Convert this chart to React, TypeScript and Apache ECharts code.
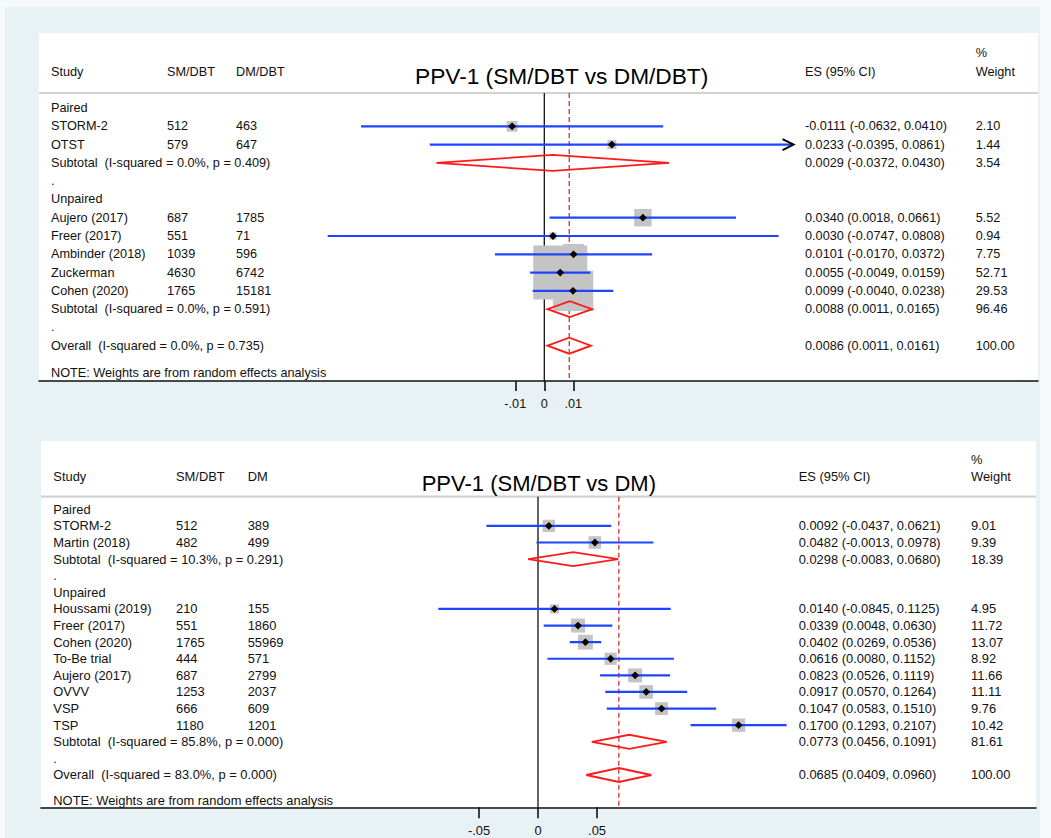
import React, { useEffect, useRef } from 'react';
import * as echarts from 'echarts';

const FONT = '"Liberation Sans", Arial, Helvetica, sans-serif';
const NOTE = 'NOTE: Weights are from random effects analysis';

// ---------- Panel 1: PPV-1 (SM/DBT vs DM/DBT)
const p1Title = 'PPV-1 (SM/DBT vs DM/DBT)';
const p1Heads = ['Study', 'SM/DBT', 'DM/DBT', 'ES (95% CI)', 'Weight'];
const p1Labels = ['Paired', 'STORM-2', 'OTST', 'Subtotal  (I-squared = 0.0%, p = 0.409)', '.', 'Unpaired', 'Aujero (2017)', 'Freer (2017)', 'Ambinder (2018)', 'Zuckerman', 'Cohen (2020)', 'Subtotal  (I-squared = 0.0%, p = 0.591)', '.', 'Overall  (I-squared = 0.0%, p = 0.735)'];
const p1Kinds = ['group', 'study', 'study', 'pooled', 'gap', 'group', 'study', 'study', 'study', 'study', 'study', 'pooled', 'gap', 'pooled'];
const p1N1 = ['', '512', '579', '', '', '', '687', '551', '1039', '4630', '1765', '', '', ''];
const p1N2 = ['', '463', '647', '', '', '', '1785', '71', '596', '6742', '15181', '', '', ''];
const p1ES = [null, -0.0111, 0.0233, 0.0029, null, null, 0.0340, 0.0030, 0.0101, 0.0055, 0.0099, 0.0088, null, 0.0086];
const p1Lo = [null, -0.0632, -0.0395, -0.0372, null, null, 0.0018, -0.0747, -0.0170, -0.0049, -0.0040, 0.0011, null, 0.0011];
const p1Hi = [null, 0.0410, 0.0861, 0.0430, null, null, 0.0661, 0.0808, 0.0372, 0.0159, 0.0238, 0.0165, null, 0.0161];
const p1W = [null, 2.10, 1.44, 3.54, null, null, 5.52, 0.94, 7.75, 52.71, 29.53, 96.46, null, 100.00];
const p1Ticks = [-0.01, 0, 0.01];
const p1TickLabels = ['-.01', '0', '.01'];

// ---------- Panel 2: PPV-1 (SM/DBT vs DM)
const p2Title = 'PPV-1 (SM/DBT vs DM)';
const p2Heads = ['Study', 'SM/DBT', 'DM', 'ES (95% CI)', 'Weight'];
const p2Labels = ['Paired', 'STORM-2', 'Martin (2018)', 'Subtotal  (I-squared = 10.3%, p = 0.291)', '.', 'Unpaired', 'Houssami (2019)', 'Freer (2017)', 'Cohen (2020)', 'To-Be trial', 'Aujero (2017)', 'OVVV', 'VSP', 'TSP', 'Subtotal  (I-squared = 85.8%, p = 0.000)', '.', 'Overall  (I-squared = 83.0%, p = 0.000)'];
const p2Kinds = ['group', 'study', 'study', 'pooled', 'gap', 'group', 'study', 'study', 'study', 'study', 'study', 'study', 'study', 'study', 'pooled', 'gap', 'pooled'];
const p2N1 = ['', '512', '482', '', '', '', '210', '551', '1765', '444', '687', '1253', '666', '1180', '', '', ''];
const p2N2 = ['', '389', '499', '', '', '', '155', '1860', '55969', '571', '2799', '2037', '609', '1201', '', '', ''];
const p2ES = [null, 0.0092, 0.0482, 0.0298, null, null, 0.0140, 0.0339, 0.0402, 0.0616, 0.0823, 0.0917, 0.1047, 0.1700, 0.0773, null, 0.0685];
const p2Lo = [null, -0.0437, -0.0013, -0.0083, null, null, -0.0845, 0.0048, 0.0269, 0.0080, 0.0526, 0.0570, 0.0583, 0.1293, 0.0456, null, 0.0409];
const p2Hi = [null, 0.0621, 0.0978, 0.0680, null, null, 0.1125, 0.0630, 0.0536, 0.1152, 0.1119, 0.1264, 0.1510, 0.2107, 0.1091, null, 0.0960];
const p2W = [null, 9.01, 9.39, 18.39, null, null, 4.95, 11.72, 13.07, 8.92, 11.66, 11.11, 9.76, 10.42, 81.61, null, 100.00];
const p2Ticks = [-0.05, 0, 0.05];
const p2TickLabels = ['-.05', '0', '.05'];

const PANELS = [
  { title: p1Title, heads: p1Heads, labels: p1Labels, kinds: p1Kinds, n1: p1N1, n2: p1N2, es: p1ES, lo: p1Lo, hi: p1Hi, w: p1W, ticks: p1Ticks, tickLabels: p1TickLabels },
  { title: p2Title, heads: p2Heads, labels: p2Labels, kinds: p2Kinds, n1: p2N1, n2: p2N2, es: p2ES, lo: p2Lo, hi: p2Hi, w: p2W, ticks: p2Ticks, tickLabels: p2TickLabels },
];

// layout (pixels)
const LAYOUT = [
  { left: 39, right: 1038, panelTop: 33, top: 93, bottom: 381, zeroX: 544.3, ppu: 2900, row0: 108, step: 18.285, cols: [51, 167, 236, 805, 975.7], headY: 72, pctY: 53, titleX: 415, titleY: 76, noteY: 373.3, fs: 12.7, titleFs: 22.7, boxK: 7.44, dh: 8, clipMax: 0.0856, tickLen: 10, labelMargin: 16 },
  { left: 41, right: 1036, panelTop: 441, top: 496.7, bottom: 807.3, zeroX: 538, ppu: 1180, row0: 509.3, step: 16.606, cols: [53.3, 176, 247.7, 798.7, 971], headY: 476, pctY: 459, titleX: 421.7, titleY: 483, noteY: 800, fs: 12.9, titleFs: 22, boxK: 4.1, dh: 7, clipMax: Infinity, tickLen: 11, labelMargin: 17 },
];

const TXT = '#111111';
const BLUE = '#1f45fc';
const RED = '#ff1a1a';
const GRAY = '#c4c4c4';

function fmt(v: number) { return v.toFixed(4); }

function buildOption() {
  const grid: any[] = [];
  const xAxis: any[] = [];
  const yAxis: any[] = [];
  const series: any[] = [];
  const graphic: any[] = [
    { type: 'rect', z: -100, shape: { x: 5, y: 7, width: 1035, height: 840 }, style: { fill: '#e8f1f3' } },
  ];

  PANELS.forEach((D, gi) => {
    const L = LAYOUT[gi];
    grid.push({ left: L.left, top: L.top, width: L.right - L.left, height: L.bottom - L.top });
    xAxis.push({
      type: 'value', gridIndex: gi,
      min: (L.left - L.zeroX) / L.ppu, max: (L.right - L.zeroX) / L.ppu,
      axisLine: { show: true, onZero: false, lineStyle: { color: TXT, width: 1.6 } },
      axisTick: { show: true, customValues: D.ticks, length: L.tickLen, lineStyle: { color: TXT, width: 1.6 } },
      axisLabel: {
        show: true, customValues: D.ticks, margin: L.labelMargin, fontSize: L.fs, color: TXT, fontFamily: FONT,
        formatter: (v: number) => {
          const k = D.ticks.findIndex((t) => Math.abs(t - v) < 1e-9);
          return k >= 0 ? D.tickLabels[k] : '';
        },
      },
      splitLine: { show: false },
    });
    yAxis.push({
      type: 'value', gridIndex: gi, inverse: true, show: false,
      min: (L.top - L.row0) / L.step, max: (L.bottom - L.row0) / L.step,
    });

    const n = D.labels.length;
    const overall = D.es[n - 1] as number;
    const studyIdx = D.kinds.map((k, i) => (k === 'study' ? i : -1)).filter((i) => i >= 0);
    const pooledIdx = D.kinds.map((k, i) => (k === 'pooled' ? i : -1)).filter((i) => i >= 0);

    // reference lines (null line and overall effect)
    series.push({
      type: 'custom', xAxisIndex: gi, yAxisIndex: gi, z: 1, clip: false,
      data: [[0, overall]],
      renderItem: (params: any, api: any) => {
        const cs = params.coordSys;
        const x0 = api.coord([api.value(0), 0])[0];
        const xo = api.coord([api.value(1), 0])[0];
        return {
          type: 'group', children: [
            { type: 'line', shape: { x1: x0, y1: cs.y, x2: x0, y2: cs.y + cs.height }, style: { stroke: TXT, lineWidth: 1.3 } },
            { type: 'line', shape: { x1: xo, y1: cs.y, x2: xo, y2: cs.y + cs.height }, style: { stroke: '#d03535', lineWidth: 1.3, lineDash: [5, 3] } },
          ],
        };
      },
    });

    // weight boxes
    series.push({
      type: 'custom', xAxisIndex: gi, yAxisIndex: gi, z: 2, clip: false,
      data: studyIdx.map((i) => [D.es[i], i, D.w[i]]),
      renderItem: (params: any, api: any) => {
        const c = api.coord([api.value(0), api.value(1)]);
        const s = L.boxK * Math.sqrt(api.value(2));
        return { type: 'rect', shape: { x: c[0] - s / 2, y: c[1] - s / 2, width: s, height: s }, style: { fill: GRAY } };
      },
    });

    // confidence intervals
    series.push({
      type: 'custom', xAxisIndex: gi, yAxisIndex: gi, z: 3, clip: false,
      data: studyIdx.map((i) => [D.lo[i], i, D.hi[i]]),
      renderItem: (params: any, api: any) => {
        const lo = api.value(0); const row = api.value(1); const hi = api.value(2);
        const a = api.coord([lo, row]);
        const b = api.coord([Math.min(hi, L.clipMax), row]);
        const children: any[] = [
          { type: 'line', shape: { x1: a[0], y1: a[1], x2: b[0], y2: b[1] }, style: { stroke: BLUE, lineWidth: 2.2 } },
        ];
        if (hi > L.clipMax) {
          children.push({ type: 'polyline', shape: { points: [[b[0] - 10, b[1] - 5.5], [b[0] + 1, b[1]], [b[0] - 10, b[1] + 5.5]] }, style: { stroke: '#000', lineWidth: 2, fill: 'none' } });
        }
        return { type: 'group', children };
      },
    });

    // point estimates
    series.push({
      type: 'custom', xAxisIndex: gi, yAxisIndex: gi, z: 4, clip: false,
      data: studyIdx.map((i) => [D.es[i], i]),
      renderItem: (params: any, api: any) => {
        const c = api.coord([api.value(0), api.value(1)]);
        const r = 3.9;
        return { type: 'polygon', shape: { points: [[c[0], c[1] - r], [c[0] + r, c[1]], [c[0], c[1] + r], [c[0] - r, c[1]]] }, style: { fill: '#000' } };
      },
    });

    // pooled diamonds
    series.push({
      type: 'custom', xAxisIndex: gi, yAxisIndex: gi, z: 5, clip: false,
      data: pooledIdx.map((i) => [D.es[i], i, D.lo[i], D.hi[i]]),
      renderItem: (params: any, api: any) => {
        const row = api.value(1);
        const c = api.coord([api.value(0), row]);
        const a = api.coord([api.value(2), row]);
        const b = api.coord([api.value(3), row]);
        const h = L.dh;
        return { type: 'polygon', shape: { points: [[a[0], c[1]], [c[0], c[1] - h], [b[0], c[1]], [c[0], c[1] + h]] }, style: { stroke: RED, lineWidth: 1.8, fill: 'none' } };
      },
    });

    // text columns
    const font = `${L.fs}px ${FONT}`;
    series.push({
      type: 'custom', xAxisIndex: gi, yAxisIndex: gi, z: 6, clip: false,
      data: D.labels.map((_, i) => [0, i]),
      renderItem: (params: any, api: any) => {
        const i = params.dataIndex;
        const y = api.coord([0, api.value(1)])[1];
        const es = D.es[i]; const lo = D.lo[i]; const hi = D.hi[i]; const w = D.w[i];
        const cells = [
          D.labels[i], D.n1[i], D.n2[i],
          es != null ? `${fmt(es)} (${fmt(lo as number)}, ${fmt(hi as number)})` : '',
          w != null ? (w as number).toFixed(2) : '',
        ];
        return {
          type: 'group',
          children: cells.map((t, k) => ({
            type: 'text',
            style: { text: t, x: L.cols[k], y, fill: TXT, font, textAlign: 'left', textVerticalAlign: 'middle' },
          })),
        };
      },
    });

    // panel background, header rule, headings, title, note
    graphic.push({ type: 'rect', z: -90, shape: { x: L.left, y: L.panelTop, width: L.right - L.left, height: L.bottom - L.panelTop }, style: { fill: '#ffffff' } });
    graphic.push({ type: 'line', z: -80, shape: { x1: L.left, y1: L.top, x2: L.right, y2: L.top }, style: { stroke: '#d2d2d2', lineWidth: 2.2 } });
    D.heads.forEach((h, k) => {
      graphic.push({ type: 'text', style: { text: h, x: L.cols[k], y: L.headY, fill: TXT, font, textAlign: 'left', textVerticalAlign: 'middle' } });
    });
    graphic.push({ type: 'text', style: { text: '%', x: L.cols[4], y: L.pctY, fill: TXT, font, textAlign: 'left', textVerticalAlign: 'middle' } });
    graphic.push({ type: 'text', style: { text: D.title, x: L.titleX, y: L.titleY, fill: '#000', font: `${L.titleFs}px ${FONT}`, textAlign: 'left', textVerticalAlign: 'middle' } });
    graphic.push({ type: 'text', style: { text: NOTE, x: L.cols[0], y: L.noteY, fill: TXT, font, textAlign: 'left', textVerticalAlign: 'middle' } });
  });

  return {
    animation: false,
    backgroundColor: '#f6f9fa',
    grid, xAxis, yAxis, series, graphic,
  };
}

export default function App() {
  const ref = useRef<HTMLDivElement>(null);
  useEffect(() => {
    if (!ref.current) return;
    const chart = echarts.init(ref.current, undefined, { renderer: 'svg' });
    chart.setOption(buildOption() as any);
    return () => chart.dispose();
  }, []);
  return <div ref={ref} style={{ position: 'fixed', left: 0, top: 0, width: 1051, height: 838 }} />;
}
